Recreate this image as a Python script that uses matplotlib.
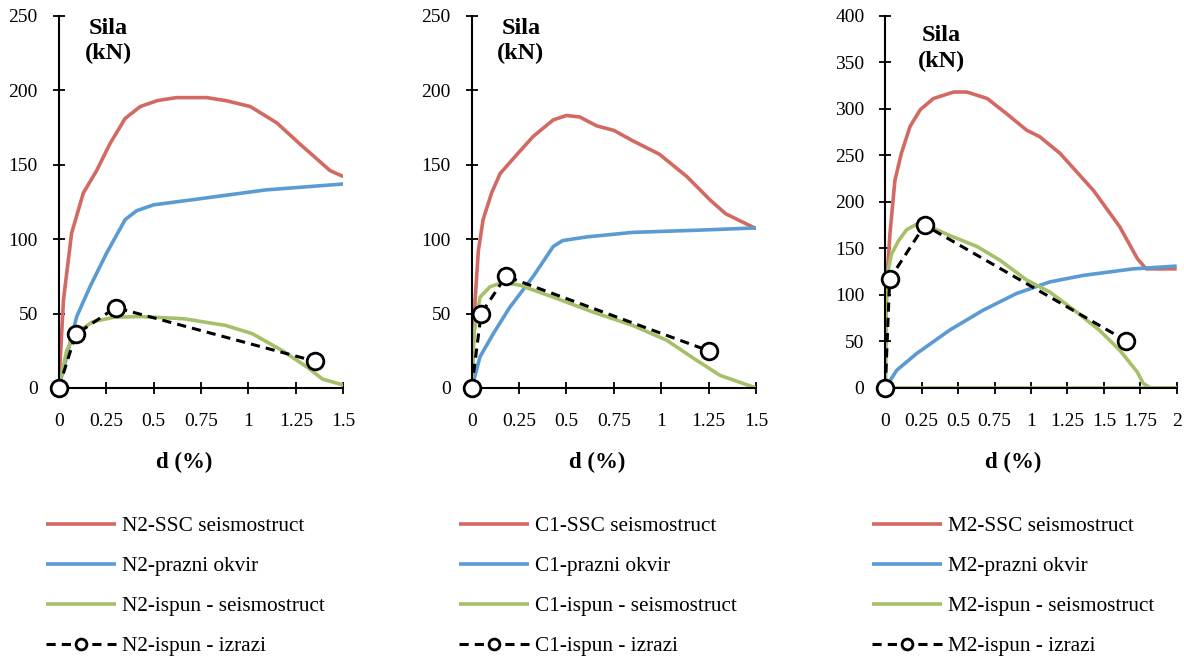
import matplotlib.pyplot as plt

# N2 panel
n2_ssc_d = [0, 0.025, 0.068, 0.13, 0.2, 0.27, 0.35, 0.43, 0.52, 0.62, 0.78, 0.88, 1.01, 1.15, 1.27, 1.43, 1.5]
n2_ssc_f = [0, 59, 104, 131, 146, 164, 181, 189, 193, 195, 195, 193, 189, 178, 164, 146, 142]
n2_okv_d = [0, 0.095, 0.165, 0.25, 0.35, 0.41, 0.5, 0.74, 1.09, 1.5]
n2_okv_f = [0, 48, 68, 90, 113, 119, 123, 127, 133, 137]
n2_isp_d = [0, 0.042, 0.086, 0.18, 0.29, 0.43, 0.66, 0.88, 1.02, 1.18, 1.31, 1.39, 1.5]
n2_isp_f = [0, 25, 36.5, 44.5, 47.5, 48, 46.5, 42, 36.5, 25, 14, 6, 2]
n2_izr_d = [0, 0.09, 0.3, 1.35]
n2_izr_f = [0, 36, 54, 18]

# C1 panel
c1_ssc_d = [0, 0.018, 0.035, 0.06, 0.105, 0.15, 0.24, 0.325, 0.43, 0.5, 0.57, 0.66, 0.75, 0.85, 0.99, 1.135, 1.26, 1.34, 1.5]
c1_ssc_f = [0, 59, 92, 113, 131, 144, 157, 169, 180, 183, 182, 176, 173, 166, 157, 142, 126, 117, 107]
c1_okv_d = [0, 0.044, 0.114, 0.2, 0.325, 0.43, 0.48, 0.61, 0.85, 1.2, 1.5]
c1_okv_f = [0, 21, 36.5, 54, 75, 95, 99, 101.5, 104.5, 106, 107.5]
c1_isp_d = [0, 0.012, 0.044, 0.097, 0.167, 0.255, 0.43, 0.64, 0.85, 1.03, 1.17, 1.31, 1.5]
c1_isp_f = [0, 36.5, 61, 68, 71, 69, 61, 51, 42, 32, 20, 8.5, 0]
c1_izr_d = [0, 0.05, 0.18, 1.25]
c1_izr_f = [0, 50, 75, 25]

# M2 panel
m2_ssc_d = [0, 0.005, 0.014, 0.032, 0.066, 0.11, 0.17, 0.24, 0.33, 0.47, 0.56, 0.7, 0.83, 0.97, 1.06, 1.2, 1.43, 1.61, 1.73, 1.79, 2.0]
m2_ssc_f = [0, 76, 123, 166, 223, 252, 281, 299, 311, 318, 318, 311, 295, 277, 270, 252, 212, 173, 139, 128, 128]
m2_okv_d = [0, 0.078, 0.215, 0.44, 0.67, 0.9, 1.13, 1.36, 1.7, 2.0]
m2_okv_f = [0, 19, 37, 62, 83.5, 101.5, 114, 121, 128, 131]
m2_isp_d = [0, 0.005, 0.014, 0.043, 0.09, 0.146, 0.215, 0.28, 0.44, 0.63, 0.79, 0.97, 1.13, 1.31, 1.47, 1.61, 1.73, 1.77, 1.82, 2.0, 0]
m2_isp_f = [0, 94, 123, 144, 158, 170, 176, 175, 164, 152, 137, 116, 103, 82, 62, 40.5, 17, 5, 0, 0, 0]
m2_izr_d = [0, 0.03, 0.27, 1.65]
m2_izr_f = [0, 117, 175, 51]

paneli = [
    ("N2", n2_ssc_d, n2_ssc_f, n2_okv_d, n2_okv_f, n2_isp_d, n2_isp_f, n2_izr_d, n2_izr_f, 1.5, 250, 0.25, 50),
    ("C1", c1_ssc_d, c1_ssc_f, c1_okv_d, c1_okv_f, c1_isp_d, c1_isp_f, c1_izr_d, c1_izr_f, 1.5, 250, 0.25, 50),
    ("M2", m2_ssc_d, m2_ssc_f, m2_okv_d, m2_okv_f, m2_isp_d, m2_isp_f, m2_izr_d, m2_izr_f, 2.0, 400, 0.25, 50),
]

# polozaji osa (px -> udio slike)
W, H = 1184, 656
pozicije = [(58.7, 343.3), (471.7, 756.0), (885.3, 1176.7)]
sila_x = [0.174, 0.173, 0.193]
sila_y = [0.932, 0.932, 0.911]

plt.rcParams['font.family'] = ['Liberation Serif']

crvena = '#D26A63'
plava = '#5A9BD3'
zelena = '#A6C06A'

fig = plt.figure(figsize=(W / 100, H / 100), dpi=100)

for i, (ime, sd, sf, od, of, idd, iff, zd, zf, xmax, ymax, xstep, ystep) in enumerate(paneli):
    x0, x1 = pozicije[i]
    ax = fig.add_axes([x0 / W, 1 - 388 / H, (x1 - x0) / W, (388 - 15.7) / H])
    ax.plot(sd, sf, color=crvena, lw=2.6, label=ime + '-SSC seismostruct', solid_capstyle='butt')
    ax.plot(od, of, color=plava, lw=2.6, label=ime + '-prazni okvir', solid_capstyle='butt')
    ax.plot(idd, iff, color=zelena, lw=2.6, label=ime + '-ispun - seismostruct', solid_capstyle='butt')
    ax.plot(zd, zf, color='black', lw=2.2, ls=(0, (3, 2)), marker='o', ms=12,
            mfc='white', mec='black', mew=2, label=ime + '-ispun - izrazi', clip_on=False, zorder=5)

    ax.set_xlim(0, xmax)
    ax.set_ylim(0, ymax)
    xt = [k * xstep for k in range(int(round(xmax / xstep)) + 1)]
    ax.set_xticks(xt)
    ax.set_xticklabels([('%g' % v) for v in xt])
    ax.set_yticks(range(0, ymax + 1, ystep))
    ax.spines['top'].set_visible(False)
    ax.spines['right'].set_visible(False)
    ax.spines['left'].set_linewidth(1.5)
    ax.spines['bottom'].set_linewidth(1.5)
    ax.tick_params(direction='inout', length=8, width=1.3, labelsize=14)
    ax.tick_params(axis='x', pad=14)
    ax.tick_params(axis='y', pad=11)

    ax.text(sila_x[i], sila_y[i], 'Sila\n(kN)', transform=ax.transAxes, ha='center', va='center',
            fontsize=17.5, fontweight='bold', linespacing=1.3)
    ax.set_xlabel('d (%)', fontsize=16.5, fontweight='bold')
    ax.xaxis.set_label_coords(0.44, -0.172)

    leg = ax.legend(loc='upper left', bbox_to_anchor=(-0.045, -0.344), frameon=False,
                    fontsize=15.3, handlelength=3.3, handletextpad=0.28, labelspacing=0.95,
                    borderpad=0, borderaxespad=0, markerscale=0.65)

plt.savefig('out.png', dpi=100)
plt.close()
